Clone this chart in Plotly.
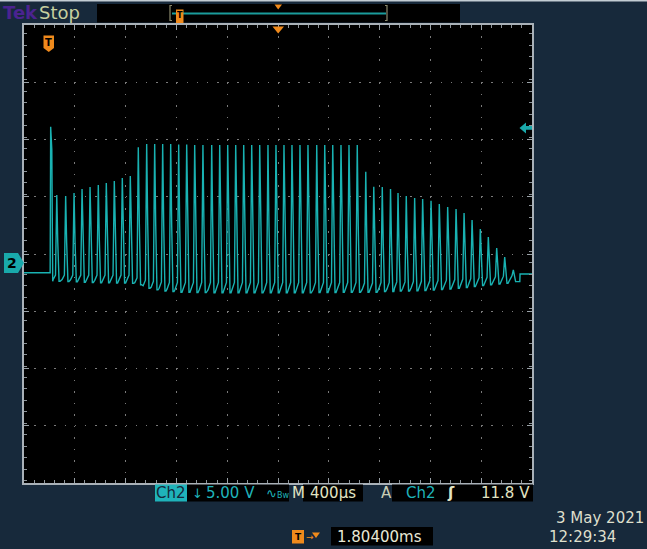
import plotly.graph_objects as go

W, H = 647, 549

# ---------------- scope settings / data ----------------
time_div_ms = 0.4          # M 400 µs / div
volt_div = 5.0             # Ch2 5.00 V / div
n_xdiv, n_ydiv = 10, 8
ground_offset_div = -0.157 # Ch2 ground marker sits a bit below centre
trigger_level_v = 11.8

baseline_start_v = -0.85
baseline_end_v = -0.96
end_step_t_ms = 3.906

spike_t_ms = 0.210
spike_peak_v = 11.9

pulse_t_ms = [
    0.258, 0.328, 0.394, 0.457, 0.520, 0.585, 0.648, 0.711, 0.774, 0.837,
    0.900, 0.966, 1.029, 1.092, 1.155, 1.218, 1.281, 1.344, 1.409, 1.478,
    1.541, 1.604, 1.667, 1.730, 1.793, 1.856, 1.921, 1.984, 2.047, 2.110,
    2.173, 2.236, 2.305, 2.368, 2.431, 2.496, 2.559, 2.624,
    2.691, 2.754, 2.821, 2.886, 2.945, 3.010, 3.076, 3.139, 3.205, 3.270,
    3.336, 3.402, 3.465, 3.528, 3.593, 3.656, 3.722, 3.785, 3.853,
]
pulse_peak_v = [
    5.94, 5.85, 6.11, 6.46, 6.64, 6.81, 6.99, 7.16, 7.42, 7.60,
    10.1, 10.4, 10.4, 10.4, 10.4, 10.35, 10.35, 10.3, 10.3, 10.3,
    10.3, 10.3, 10.3, 10.3, 10.3, 10.3, 10.3, 10.3, 10.3, 10.3,
    10.3, 10.3, 10.3, 10.3, 10.3, 10.3, 10.3, 10.3,
    7.97, 6.66, 6.64, 6.46, 6.11, 5.85, 5.68, 5.59, 5.44, 5.15,
    4.89, 4.72, 4.37, 3.76, 2.97, 2.27, 1.31, 0.52, -0.61,
]
pulse_low_v = [
    -1.60, -1.62, -1.65, -1.68, -1.70, -1.72, -1.72, -1.75, -1.75, -1.78,
    -1.90, -2.20, -2.35, -2.45, -2.50, -2.55, -2.55, -2.58, -2.58, -2.60,
    -2.60, -2.60, -2.60, -2.60, -2.60, -2.60, -2.60, -2.60, -2.60, -2.60,
    -2.60, -2.60, -2.58, -2.58, -2.58, -2.56, -2.56, -2.55,
    -2.55, -2.55, -2.50, -2.50, -2.45, -2.45, -2.42, -2.40, -2.36, -2.32,
    -2.27, -2.20, -2.15, -2.05, -1.98, -1.90, -1.83, -1.77, -1.63,
]
pulse_mid_v = [
    -1.05, -1.05, -1.05, -1.05, -1.05, -1.05, -1.05, -1.05, -1.05, -1.05,
    -1.30, -1.50, -1.60, -1.65, -1.70, -1.70, -1.70, -1.70, -1.70, -1.70,
    -1.70, -1.70, -1.70, -1.70, -1.70, -1.70, -1.70, -1.70, -1.70, -1.70,
    -1.70, -1.70, -1.70, -1.70, -1.70, -1.70, -1.70, -1.70,
    -1.75, -1.75, -1.70, -1.70, -1.65, -1.65, -1.62, -1.60, -1.56, -1.52,
    -1.50, -1.45, -1.40, -1.35, -1.30, -1.25, -1.20, -1.15, -1.10,
]

# ---------------- build the trace ----------------
t_end = time_div_ms * n_xdiv
xs = [0.0, spike_t_ms - 0.004, spike_t_ms, spike_t_ms + 0.003,
      spike_t_ms + 0.009, spike_t_ms + 0.016]
ys = [baseline_start_v, baseline_start_v, spike_peak_v, spike_peak_v - 1.3,
      spike_peak_v - 2.0, pulse_low_v[0]]
for t, pk, lo, md in zip(pulse_t_ms, pulse_peak_v, pulse_low_v, pulse_mid_v):
    xs += [t - 0.028, t - 0.010, t, t + 0.008, t + 0.018, t + 0.026]
    ys += [lo + 0.3 * (md - lo), md, pk, lo + 0.45 * (pk - lo), lo, lo]
xs += [end_step_t_ms - 0.002, end_step_t_ms, t_end]
ys += [pulse_low_v[-1], baseline_end_v, baseline_end_v]

centre_v = -ground_offset_div * volt_div
y_range = [centre_v - volt_div * n_ydiv / 2, centre_v + volt_div * n_ydiv / 2]

fig = go.Figure()
fig.add_trace(go.Scatter(x=xs, y=ys, mode="lines",
                         line=dict(color="#19b2b2", width=1.4),
                         hoverinfo="skip", showlegend=False))

# ---------------- layout ----------------
BG = "#17293b"
L, R, T, B = 24, 532, 25, 483


def px(x):
    return x / W


def py(y):
    return 1 - y / H


fig.update_layout(
    width=W, height=H,
    margin=dict(l=0, r=0, t=0, b=0),
    paper_bgcolor=BG, plot_bgcolor="black",
    showlegend=False,
    xaxis=dict(domain=[px(L), px(R)], range=[0, t_end], dtick=time_div_ms,
               showgrid=True, gridcolor="#7a7a7a", gridwidth=1,
               griddash="1.5px,9.95px", zeroline=False,
               showticklabels=False, ticks="inside", ticklen=5,
               tickcolor="#9aa2a8", showline=True, linecolor="#a9b1b8",
               linewidth=2, mirror="allticks",
               minor=dict(dtick=time_div_ms / 5, ticks="inside", ticklen=3,
                          tickcolor="#8d949a", showgrid=False),
               fixedrange=True),
    yaxis=dict(domain=[py(B), py(T)], range=y_range, tick0=centre_v,
               dtick=volt_div, showgrid=True, gridcolor="#7a7a7a",
               gridwidth=1, griddash="1.5px,8.66px", zeroline=False,
               showticklabels=False, ticks="inside", ticklen=5,
               tickcolor="#9aa2a8", showline=True, linecolor="#a9b1b8",
               linewidth=2, mirror="allticks",
               minor=dict(dtick=volt_div / 5, ticks="inside", ticklen=3,
                          tickcolor="#8d949a", showgrid=False),
               fixedrange=True),
)

FONT = "DejaVu Sans"
ORANGE = "#f08a1c"
TEAL = "#1fb3ba"
PALE = "#e2e4c4"

shapes = []
ann = []


def rect(x0, y0, x1, y1, fill, line=None):
    shapes.append(dict(type="rect", xref="paper", yref="paper",
                       x0=px(x0), x1=px(x1), y0=py(y1), y1=py(y0),
                       fillcolor=fill, line=dict(width=0) if line is None else line,
                       layer="above"))


def path(pts, fill, closed=True):
    d = "M " + " L ".join(f"{px(x):.5f},{py(y):.5f}" for x, y in pts)
    if closed:
        d += " Z"
    shapes.append(dict(type="path", xref="paper", yref="paper", path=d,
                       fillcolor=fill, line=dict(width=0), layer="above"))


def line(x0, y0, x1, y1, color, width):
    shapes.append(dict(type="line", xref="paper", yref="paper",
                       x0=px(x0), x1=px(x1), y0=py(y0), y1=py(y1),
                       line=dict(color=color, width=width), layer="above"))


def text(x, y, s, color, size, xanchor="left", bold=False, bg=None):
    ann.append(dict(xref="paper", yref="paper", x=px(x), y=py(y),
                    text=f"<b>{s}</b>" if bold else s, showarrow=False,
                    xanchor=xanchor, yanchor="middle",
                    font=dict(family=FONT, size=size, color=color),
                    bgcolor=bg))


# top light rim
rect(0, 0, W, 1.5, "#c3ccd3")
# Tek Stop
text(1, 13, "Tek", "#4b2390", 18, bold=True)
text(37, 13, "Stop", "#c6cf9f", 18)
# record view box
rect(97, 4, 460, 22.5, "black")
line(172, 13.5, 386, 13.5, "#1a9c9c", 2)
for xb, d in [(170, 1), (387, -1)]:
    line(xb, 5, xb, 21, "#8c8a6e", 1.2)
    line(xb, 5.5, xb + 2 * d, 5.5, "#8c8a6e", 1.2)
    line(xb, 20.5, xb + 2 * d, 20.5, "#8c8a6e", 1.2)
rect(176, 9.5, 183.5, 23, ORANGE)
text(179.8, 16, "T", "black", 8, xanchor="center", bold=True)
path([(274.5, 4.5), (282, 4.5), (278.2, 9.5)], ORANGE)
# trigger position marker on graticule
path([(272.5, 26.5), (284, 26.5), (278.2, 33.5)], ORANGE)
# T marker
path([(43.5, 35.5), (54, 35.5), (54, 48), (48.75, 52), (43.5, 48)], ORANGE)
text(48.8, 42.5, "T", "black", 10, xanchor="center", bold=True)
# trigger level arrow right
trig_y = (y_range[1] - trigger_level_v) / (y_range[1] - y_range[0]) * (B - T) + T
path([(519.5, trig_y), (526, trig_y - 5.5), (526, trig_y - 1.8), (532, trig_y - 1.8),
      (532, trig_y + 1.8), (526, trig_y + 1.8), (526, trig_y + 5.5)], "#1aa8aa")
# Ch2 ground marker left
gnd_y = (y_range[1] - 0) / (y_range[1] - y_range[0]) * (B - T) + T
path([(4, gnd_y - 10), (18, gnd_y - 10), (24, gnd_y), (18, gnd_y + 10), (4, gnd_y + 10)],
     "#19a9ab")
text(12, gnd_y + 0.5, "2", "black", 14, xanchor="center", bold=True)

# bottom readouts
rect(155, 484.5, 187, 501.5, TEAL)
text(171, 493, "Ch2", "#16283a", 15, xanchor="center")
rect(187, 484.5, 289, 501.5, "black")
text(190, 493, "↓", TEAL, 13)
text(204, 493, "5.00 V", TEAL, 15)
text(264, 493, "∿<span style='font-size:8px'>Bw</span>", TEAL, 13)
text(289.5, 493, "M", PALE, 15)
rect(303, 484.5, 363, 501.5, "black")
text(333, 493, "400µs", PALE, 15, xanchor="center")
text(379, 493, "A", "#c9cdb5", 15)
rect(392, 484.5, 533, 501.5, "black")
text(404, 493, "Ch2", TEAL, 15)
text(445, 493, "ʃ", PALE, 15, bold=True)
text(532, 493, "11.8 V", PALE, 15, xanchor="right")

rect(292, 530, 304, 543.5, ORANGE)
text(298, 536.8, "T", "black", 9, xanchor="center", bold=True)
text(304, 536.5, "→", ORANGE, 9)
path([(312, 532.5), (320, 532.5), (316, 538)], ORANGE)
rect(331, 527, 433, 545.5, "black")
text(335, 536.5, "1.80400ms", "#e8e8d6", 15)

text(646, 518, "3 May 2021", "#dedfcc", 15, xanchor="right")
text(547, 537, "12:29:34", "#dedfcc", 15)

fig.update_layout(shapes=shapes, annotations=ann)
fig.write_html("out.html",
               config={"displayModeBar": False, "staticPlot": True},
               post_script="document.body.style.margin='0';"
                           "document.body.style.overflow='hidden';")
